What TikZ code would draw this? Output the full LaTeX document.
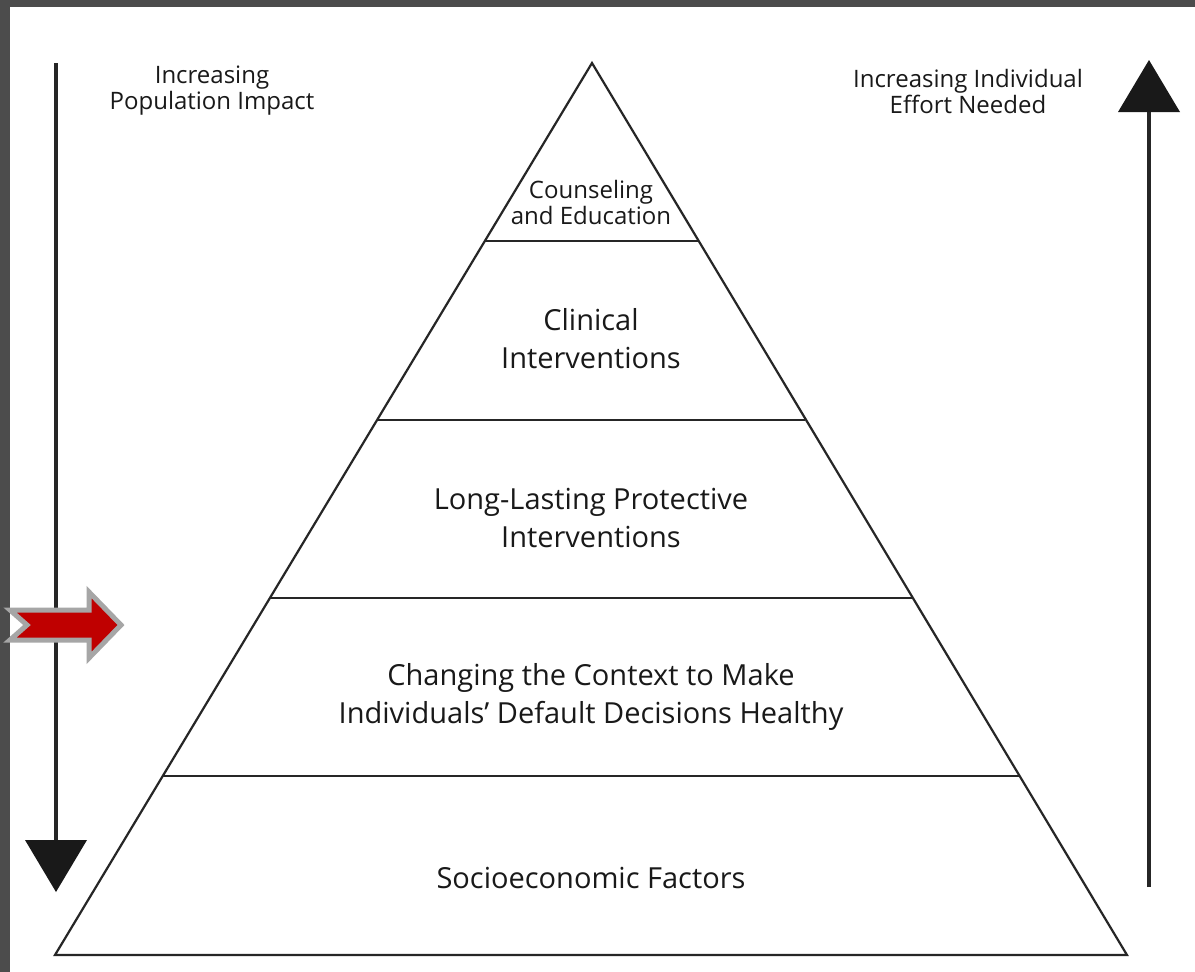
\documentclass[tikz,border=0pt]{standalone}
\usepackage{fontspec}
\setmainfont{Open Sans}
\begin{document}
\begin{tikzpicture}[x=1pt,y=-1pt,
  pyr/.style={draw=black!85,line width=2.2pt,line join=miter},
  tier/.style={draw=black!85,line width=2.2pt},
  lbl/.style={align=center,text=black!90,font=\fontsize{29}{38}\selectfont,inner sep=0pt},
  toplbl/.style={align=center,text=black!90,font=\fontsize{24}{26}\selectfont,inner sep=0pt},
  shaft/.style={draw=black!85,line width=3.2pt},
  head/.style={fill=black!90,draw=none}]
\useasboundingbox (0,0) rectangle (1195,972);
\fill[black!70] (0,0) rectangle (1195,972);
\fill[white] (10,7) rectangle (1195,972);
% pyramid
\coordinate (apex) at (592,63);
\coordinate (bl) at (55,955);
\coordinate (br) at (1127,955);
\draw[pyr] (apex) -- (bl) -- (br) -- cycle;
\coordinate (l1) at (484,241); \coordinate (r1) at (698,241);
\coordinate (l2) at (378,420); \coordinate (r2) at (805,420);
\coordinate (l3) at (270,598); \coordinate (r3) at (913,598);
\coordinate (l4) at (163,776); \coordinate (r4) at (1020,776);
\draw[tier] (l1) -- (r1);
\draw[tier] (l2) -- (r2);
\draw[tier] (l3) -- (r3);
\draw[tier] (l4) -- (r4);
% labels
\node[toplbl] (t1) at (591,202) {Counseling\\and Education};
\node[lbl] (t2) at (591,339) {Clinical\\Interventions};
\node[lbl] (t3) at (591,518) {Long-Lasting Protective\\Interventions};
\node[lbl] (t4) at (591,697) {Changing the Context to Make\\Individuals’ Default Decisions Healthy};
\node[lbl] (t5) at (591,878) {Socioeconomic Factors};
\node[toplbl] (pl) at (212,91) {Increasing\\Population Impact};
\node[toplbl] (il) at (968,91) {Increasing Individual\\Effort Needed};
% left arrow
\coordinate (ls) at (56,63);
\coordinate (lh) at (56,842);
\draw[shaft] (ls) -- (lh);
\fill[head] (25,840) -- (87,840) -- (56,892) -- cycle;
% right arrow
\coordinate (rs) at (1149,887);
\coordinate (rh) at (1149,110);
\draw[shaft] (rs) -- (rh);
\fill[head] (1118,112) -- (1180,112) -- (1149,60) -- cycle;
% red arrow
\filldraw[fill=red!75!black,draw=black!35,line width=5pt,line join=miter]
  (10,610) -- (89,610) -- (89,592) -- (121,625) -- (89,658) -- (89,640) -- (10,640) -- (27,625) -- cycle;
\end{tikzpicture}
\end{document}
